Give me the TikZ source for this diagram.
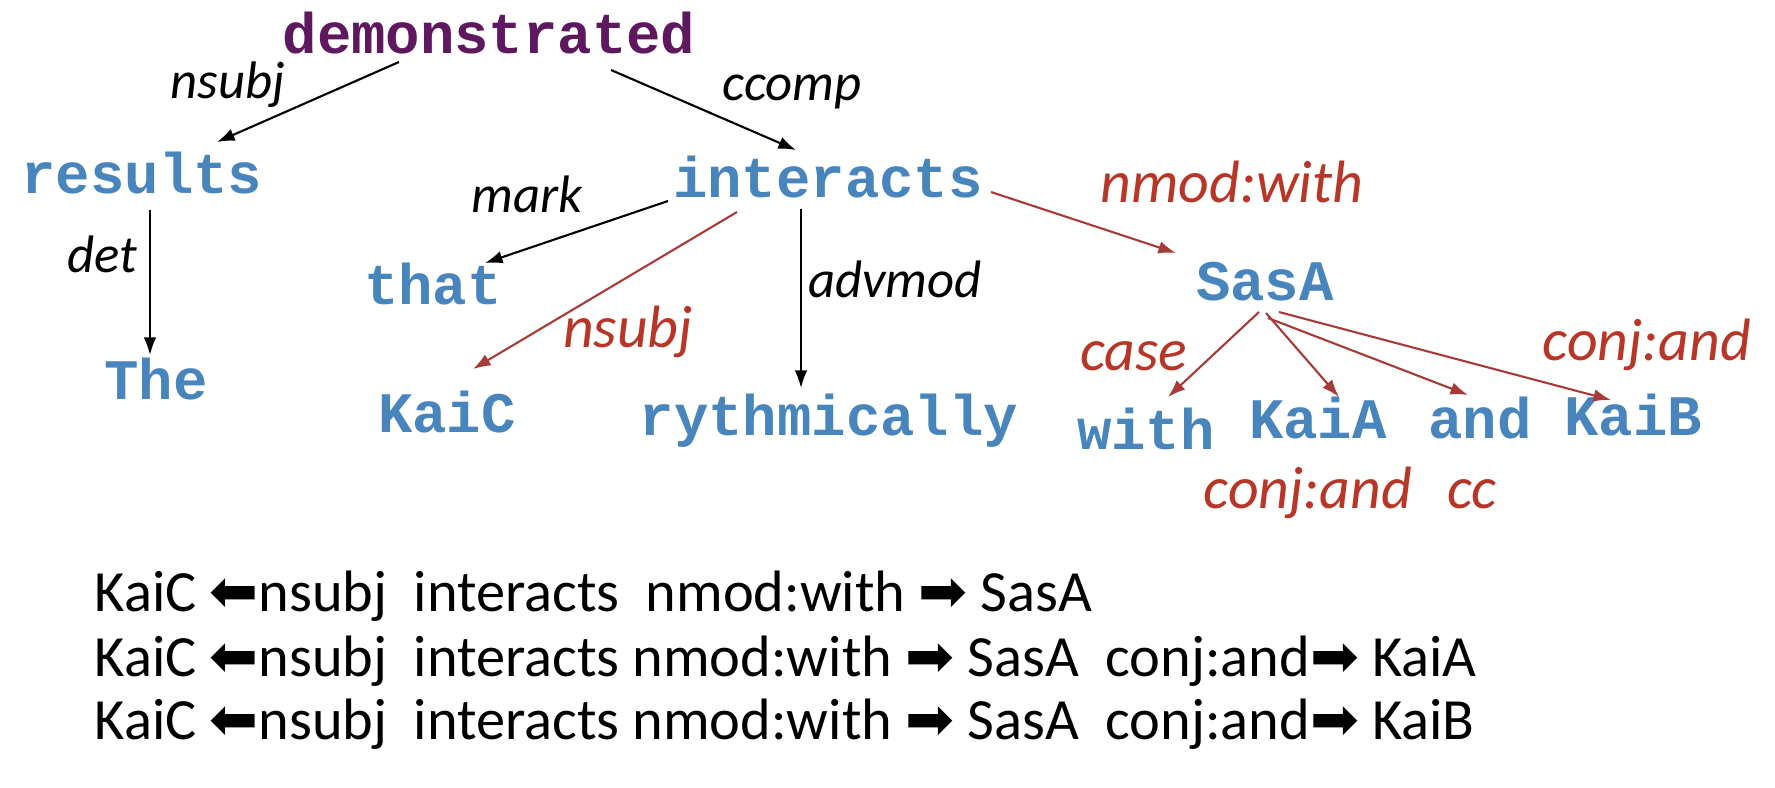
\documentclass[tikz,border=0pt]{standalone}
\usepackage{fontspec}
\setmainfont{Carlito}
\newfontfamily\wordfont{Liberation Mono}
\newfontfamily\symfont{DejaVu Sans}
\usetikzlibrary{arrows.meta,calc}
\definecolor{wordblue}{RGB}{72,133,189}
\definecolor{headpurple}{RGB}{94,24,94}
\definecolor{relred}{RGB}{184,54,40}
\definecolor{arrred}{RGB}{168,58,56}
\begin{document}
\begin{tikzpicture}[x=0.01cm,y=-0.01cm,
  every node/.style={inner sep=0pt,anchor=base},
  word/.style={font=\wordfont\bfseries\fontsize{16.3}{18}\selectfont,text=wordblue},
  rel/.style={font=\itshape\fontsize{15}{18}\selectfont},
  redrel/.style={font=\itshape\fontsize{17}{20}\selectfont,text=relred},
  pathline/.style={anchor=base west,font=\fontsize{16.6}{20}\selectfont},
  dep/.style={-{Latex[length=5pt,width=3.6pt]},line width=0.6pt},
  reddep/.style={dep,draw=arrred}]
\useasboundingbox (0,0) rectangle (1775,787);
% words of the parse
\node[word,text=headpurple] (dem) at (489,53) {demonstrated};
\node[word] (res) at (142,193) {results};
\node[word] (the) at (156,399) {The};
\node[word] (int) at (828,197) {interacts};
\node[word] (that) at (433,304) {that};
\node[word] (kaic) at (447,432) {KaiC};
\node[word] (ryth) at (829,435) {rythmically};
\node[word] (sasa) at (1265,300) {SasA};
\node[word] (with) at (1146,449) {with};
\node[word] (kaia) at (1318,438) {KaiA};
\node[word] (and) at (1480,438) {and};
\node[word] (kaib) at (1633,435) {KaiB};
% relation labels
\node[rel] (l-nsubj) at (228,98) {nsubj};
\node[rel] (l-ccomp) at (792,100) {ccomp};
\node[rel] (l-mark) at (527,212) {mark};
\node[rel] (l-det) at (102,272) {det};
\node[rel] (l-advmod) at (895,297) {advmod};
\node[redrel] (l-nsubj2) at (628,347) {nsubj};
\node[redrel] (l-nmod) at (1232,202) {nmod:with};
\node[redrel] (l-case) at (1134,370) {case};
\node[redrel] (l-conj1) at (1647,360) {conj:and};
\node[redrel] (l-conj2) at (1308,508) {conj:and};
\node[redrel] (l-cc) at (1472,508) {cc};
% dependencies
\draw[dep] ($(dem.base)+(-90,9)$) -- ($(res.base)+(75,-51)$);
\draw[dep] ($(dem.base)+(122,17)$) -- ($(int.base)+(-32,-47)$);
\draw[dep] ($(res.base)+(8,17)$) -- ($(the.base)+(-6,-44)$);
\draw[dep] ($(int.base)+(-160,4)$) -- ($(that.base)+(52,-41)$);
\draw[dep] ($(int.base)+(-27,12)$) -- ($(ryth.base)+(-28,-47)$);
\draw[reddep] ($(int.base)+(-91,15)$) -- ($(kaic.base)+(26,-63)$);
\draw[reddep] ($(int.base)+(163,-5)$) -- ($(sasa.base)+(-89,-47)$);
\draw[reddep] ($(sasa.base)+(-6,12)$) -- ($(with.base)+(22,-52)$);
\draw[reddep] ($(sasa.base)+(1,13)$) -- ($(kaia.base)+(21,-41)$);
\draw[reddep] ($(sasa.base)+(3,18)$) -- ($(and.base)+(-12,-43)$);
\draw[reddep] ($(sasa.base)+(14,12)$) -- ($(kaib.base)+(-22,-35)$);
% extracted paths
\node[pathline] (path1) at (94,611) {KaiC {\symfont ⬅}nsubj\ \ interacts\ \ nmod:with {\symfont ➡} SasA};
\node[pathline] (path2) at (94,676) {KaiC {\symfont ⬅}nsubj\ \ interacts nmod:with {\symfont ➡} SasA\ \ conj:and{\symfont ➡} KaiA};
\node[pathline] (path3) at (94,739) {KaiC {\symfont ⬅}nsubj\ \ interacts nmod:with {\symfont ➡} SasA\ \ conj:and{\symfont ➡} KaiB};
\end{tikzpicture}
\end{document}
